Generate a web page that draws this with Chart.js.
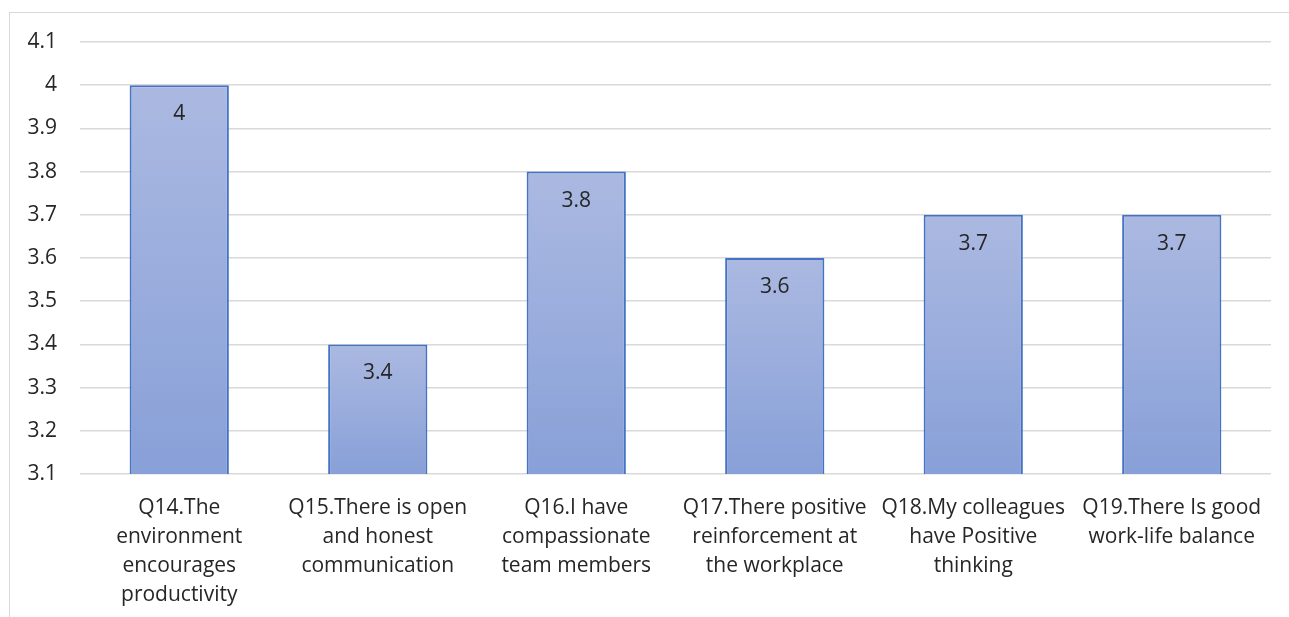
<!DOCTYPE html>
<html>
<head>
<meta charset="utf-8">
<script src="https://cdn.jsdelivr.net/npm/chart.js@4/dist/chart.umd.min.js"></script>
<style>
  body { margin: 0; background: #fff; overflow: hidden; }
  #frame { position: absolute; left: 9px; top: 12px; width: 1400px; height: 800px; border: 1.5px solid #d9d9d9; }
  #chart { position: absolute; left: 0; top: 0; }
</style>
</head>
<body>
<div id="frame"></div>
<canvas id="chart" width="1289" height="617"></canvas>
<script>
// data
const categories = [
    ['Q14.The', 'environment', 'encourages', 'productivity'],
    ['Q15.There is open', 'and honest', 'communication'],
    ['Q16.I have', 'compassionate', 'team members'],
    ['Q17.There positive', 'reinforcement at', 'the workplace'],
    ['Q18.My colleagues', 'have Positive', 'thinking'],
    ['Q19.There Is good', 'work-life balance']
];
const scores = [4, 3.4, 3.8, 3.6, 3.7, 3.7];
const yMin = 3.1;
const yMax = 4.1;
const yStep = 0.1;

const textColor = '#262626';
const fontFamily = '"Open Sans", "Noto Sans", sans-serif';

// each bar gets its own top-to-bottom gradient, like the Excel fill
function barFill(c) {
    const y = c.chart.scales.y;
    if (c.raw === undefined || !y) return '#9aaddc';
    const top = y.getPixelForValue(c.raw);
    const bottom = y.getPixelForValue(yMin);
    if (!isFinite(top) || !isFinite(bottom)) return '#9aaddc';
    const g = c.chart.ctx.createLinearGradient(0, top, 0, bottom);
    g.addColorStop(0, '#abb9e1');
    g.addColorStop(1, '#88a0d8');
    return g;
}

// value labels inside the top of each bar
const valueLabels = {
    id: 'valueLabels',
    afterDatasetsDraw(chart) {
        const ctx = chart.ctx;
        ctx.save();
        ctx.font = '21px ' + fontFamily;
        ctx.fillStyle = textColor;
        ctx.textAlign = 'center';
        ctx.textBaseline = 'middle';
        chart.getDatasetMeta(0).data.forEach((bar, i) => {
            ctx.fillText(String(scores[i]), bar.x, bar.y + 29);
        });
        ctx.restore();
    }
};

new Chart(document.getElementById('chart'), {
    type: 'bar',
    data: {
        labels: categories,
        datasets: [{
            data: scores,
            backgroundColor: barFill,
            borderColor: '#4472c4',
            borderWidth: 2,
            barPercentage: 0.5,
            categoryPercentage: 1
        }]
    },
    options: {
        responsive: false,
        animation: false,
        layout: { padding: { top: 42, right: 18, bottom: 0, left: 0 } },
        plugins: { legend: { display: false }, tooltip: { enabled: false } },
        scales: {
            x: {
                grid: { display: false },
                border: { display: false },
                ticks: {
                    color: textColor,
                    font: { family: fontFamily, size: 21, lineHeight: 1.38 },
                    padding: 12,
                    maxRotation: 0,
                    autoSkip: false
                },
                afterFit(scale) { scale.height = 143; }
            },
            y: {
                min: yMin,
                max: yMax,
                grid: { color: '#d9d9d9', lineWidth: 1.5, drawTicks: false },
                border: { display: false },
                ticks: {
                    stepSize: yStep,
                    color: textColor,
                    font: { family: fontFamily, size: 21 },
                    padding: 23,
                    callback: v => String(+v.toFixed(1))
                },
                afterFit(scale) { scale.width = 80; }
            }
        }
    },
    plugins: [valueLabels]
});
</script>
</body>
</html>
